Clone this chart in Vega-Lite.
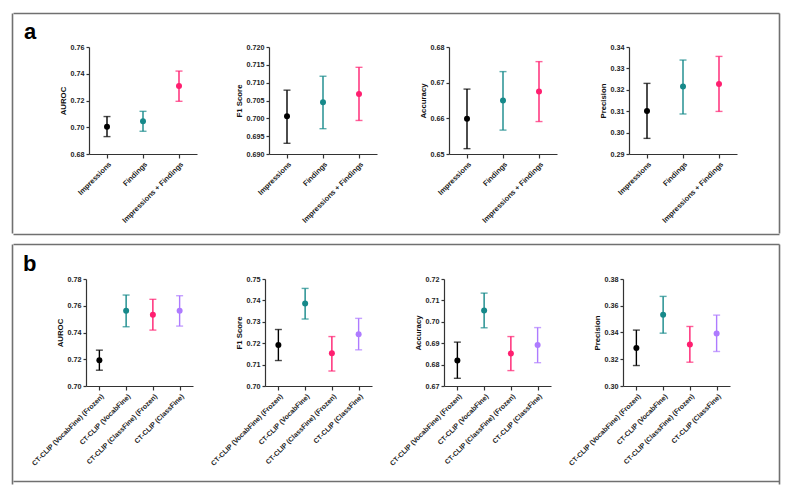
{
"$schema": "https://vega.github.io/schema/vega-lite/v6.json",
"padding": {"left": 12, "top": 13, "right": 12, "bottom": 13},
"background": "white",
"datasets": {
"a": [
{"metric":"AUROC","model":"Impressions","mean":0.7004,"lo":0.693,"hi":0.708},
{"metric":"AUROC","model":"Findings","mean":0.7044,"lo":0.697,"hi":0.7119},
{"metric":"AUROC","model":"Impressions + Findings","mean":0.7308,"lo":0.7194,"hi":0.742},
{"metric":"F1","model":"Impressions","mean":0.7006,"lo":0.693,"hi":0.7079},
{"metric":"F1","model":"Findings","mean":0.7045,"lo":0.6971,"hi":0.7118},
{"metric":"F1","model":"Impressions + Findings","mean":0.7068,"lo":0.6994,"hi":0.7143},
{"metric":"Accuracy","model":"Impressions","mean":0.6599,"lo":0.6515,"hi":0.6682},
{"metric":"Accuracy","model":"Findings","mean":0.665,"lo":0.6567,"hi":0.6731},
{"metric":"Accuracy","model":"Impressions + Findings","mean":0.6675,"lo":0.6591,"hi":0.6759},
{"metric":"Precision","model":"Impressions","mean":0.3101,"lo":0.2973,"hi":0.323},
{"metric":"Precision","model":"Findings","mean":0.3215,"lo":0.3087,"hi":0.3339},
{"metric":"Precision","model":"Impressions + Findings","mean":0.3227,"lo":0.3099,"hi":0.3356}
],
"b": [
{"metric":"AUROC","model":"CT-CLIP (VocabFine) (Frozen)","mean":0.7193,"lo":0.7118,"hi":0.7268},
{"metric":"AUROC","model":"CT-CLIP (VocabFine)","mean":0.7563,"lo":0.7443,"hi":0.768},
{"metric":"AUROC","model":"CT-CLIP (ClassFine) (Frozen)","mean":0.7533,"lo":0.7418,"hi":0.7648},
{"metric":"AUROC","model":"CT-CLIP (ClassFine)","mean":0.7563,"lo":0.7448,"hi":0.7675},
{"metric":"F1","model":"CT-CLIP (VocabFine) (Frozen)","mean":0.7192,"lo":0.7119,"hi":0.7264},
{"metric":"F1","model":"CT-CLIP (VocabFine)","mean":0.7386,"lo":0.7313,"hi":0.7456},
{"metric":"F1","model":"CT-CLIP (ClassFine) (Frozen)","mean":0.7153,"lo":0.707,"hi":0.7231},
{"metric":"F1","model":"CT-CLIP (ClassFine)","mean":0.7242,"lo":0.7169,"hi":0.7316},
{"metric":"Accuracy","model":"CT-CLIP (VocabFine) (Frozen)","mean":0.6819,"lo":0.6736,"hi":0.6905},
{"metric":"Accuracy","model":"CT-CLIP (VocabFine)","mean":0.7053,"lo":0.6972,"hi":0.7134},
{"metric":"Accuracy","model":"CT-CLIP (ClassFine) (Frozen)","mean":0.6852,"lo":0.6772,"hi":0.6931},
{"metric":"Accuracy","model":"CT-CLIP (ClassFine)","mean":0.6892,"lo":0.6809,"hi":0.6973},
{"metric":"Precision","model":"CT-CLIP (VocabFine) (Frozen)","mean":0.3285,"lo":0.3153,"hi":0.3418},
{"metric":"Precision","model":"CT-CLIP (VocabFine)","mean":0.3533,"lo":0.3395,"hi":0.367},
{"metric":"Precision","model":"CT-CLIP (ClassFine) (Frozen)","mean":0.331,"lo":0.3178,"hi":0.3445},
{"metric":"Precision","model":"CT-CLIP (ClassFine)","mean":0.3393,"lo":0.3258,"hi":0.353}
]
},
"vconcat": [
{"spacing": 0, "hconcat": [
{"width": 1, "height": 220, "data": {"values": [{}]}, "mark": {"type": "rule", "opacity": 0}, "encoding": {"y": {"datum": 0, "type": "quantitative", "axis": {"orient": "left", "ticks": false, "labels": false, "title": null, "domainColor": "#707070", "domainWidth": 1.6}}}},
{"spacing": 0, "vconcat": [
{"width": 766, "height": 28, "data": {"values": [{}]}, "mark": {"type": "rule", "opacity": 0}, "encoding": {"x": {"datum": 0, "type": "quantitative", "axis": {"orient": "top", "ticks": false, "labels": false, "title": null, "domainColor": "#707070", "domainWidth": 1.6}}},
 "title": {"text": "a", "anchor": "start", "frame": "group", "fontSize": 22, "fontWeight": "bold", "font": "Liberation Sans", "offset": -48, "dx": 11, "baseline": "alphabetic", "color": "#000000"}},
{"spacing": 72, "bounds": "flush", "hconcat": [
{"width": 4, "height": 107, "data": {"values": [{}]}, "mark": {"type": "rect", "opacity": 0}, "encoding": {}},
{"width":108,"height":107,"data":{"name":"a"},"transform":[{"filter":{"field":"metric","equal":"AUROC"}}],
"encoding":{"x":{"field":"model","type":"nominal","sort":["Impressions","Findings","Impressions + Findings"],"scale":{"type":"point","padding":0.5},"axis":{"title":null,"labelAngle":-45,"labelFontSize":7.4,"labelOverlap":false}},
"color":{"field":"model","type":"nominal","legend":null,"scale":{"domain":["Impressions","Findings","Impressions + Findings","CT-CLIP (VocabFine) (Frozen)","CT-CLIP (VocabFine)","CT-CLIP (ClassFine) (Frozen)","CT-CLIP (ClassFine)"],"range":["#000000","#16898a","#ff1f70","#000000","#16898a","#ff1f70","#ae7bff"]}}},
"layer":[
{"mark":{"type":"rule","strokeWidth":1.4},"encoding":{"y":{"field":"lo","type":"quantitative","title":"AUROC","scale":{"domain":[0.68,0.76],"nice":false,"zero":false},"axis":{"values":[0.68,0.70,0.72,0.74,0.76],"format":".2f","labelOverlap":false}},"y2":{"field":"hi"}}},
{"mark":{"type":"tick","size":7,"thickness":1.4},"encoding":{"y":{"field":"lo","type":"quantitative","title":"AUROC","axis":{"values":[0.68,0.70,0.72,0.74,0.76],"format":".2f","labelOverlap":false}}}},
{"mark":{"type":"tick","size":7,"thickness":1.4},"encoding":{"y":{"field":"hi","type":"quantitative","title":"AUROC","axis":{"values":[0.68,0.70,0.72,0.74,0.76],"format":".2f","labelOverlap":false}}}},
{"mark":{"type":"circle","size":36,"opacity":1},"encoding":{"y":{"field":"mean","type":"quantitative","title":"AUROC","axis":{"values":[0.68,0.70,0.72,0.74,0.76],"format":".2f","labelOverlap":false}}}}
]},
{"width":108,"height":107,"data":{"name":"a"},"transform":[{"filter":{"field":"metric","equal":"F1"}}],
"encoding":{"x":{"field":"model","type":"nominal","sort":["Impressions","Findings","Impressions + Findings"],"scale":{"type":"point","padding":0.5},"axis":{"title":null,"labelAngle":-45,"labelFontSize":7.4,"labelOverlap":false}},
"color":{"field":"model","type":"nominal","legend":null,"scale":{"domain":["Impressions","Findings","Impressions + Findings","CT-CLIP (VocabFine) (Frozen)","CT-CLIP (VocabFine)","CT-CLIP (ClassFine) (Frozen)","CT-CLIP (ClassFine)"],"range":["#000000","#16898a","#ff1f70","#000000","#16898a","#ff1f70","#ae7bff"]}}},
"layer":[
{"mark":{"type":"rule","strokeWidth":1.4},"encoding":{"y":{"field":"lo","type":"quantitative","title":"F1 Score","scale":{"domain":[0.69,0.72],"nice":false,"zero":false},"axis":{"values":[0.69,0.695,0.70,0.705,0.71,0.715,0.72],"format":".3f","labelOverlap":false}},"y2":{"field":"hi"}}},
{"mark":{"type":"tick","size":7,"thickness":1.4},"encoding":{"y":{"field":"lo","type":"quantitative","title":"F1 Score","axis":{"values":[0.69,0.695,0.70,0.705,0.71,0.715,0.72],"format":".3f","labelOverlap":false}}}},
{"mark":{"type":"tick","size":7,"thickness":1.4},"encoding":{"y":{"field":"hi","type":"quantitative","title":"F1 Score","axis":{"values":[0.69,0.695,0.70,0.705,0.71,0.715,0.72],"format":".3f","labelOverlap":false}}}},
{"mark":{"type":"circle","size":36,"opacity":1},"encoding":{"y":{"field":"mean","type":"quantitative","title":"F1 Score","axis":{"values":[0.69,0.695,0.70,0.705,0.71,0.715,0.72],"format":".3f","labelOverlap":false}}}}
]},
{"width":108,"height":107,"data":{"name":"a"},"transform":[{"filter":{"field":"metric","equal":"Accuracy"}}],
"encoding":{"x":{"field":"model","type":"nominal","sort":["Impressions","Findings","Impressions + Findings"],"scale":{"type":"point","padding":0.5},"axis":{"title":null,"labelAngle":-45,"labelFontSize":7.4,"labelOverlap":false}},
"color":{"field":"model","type":"nominal","legend":null,"scale":{"domain":["Impressions","Findings","Impressions + Findings","CT-CLIP (VocabFine) (Frozen)","CT-CLIP (VocabFine)","CT-CLIP (ClassFine) (Frozen)","CT-CLIP (ClassFine)"],"range":["#000000","#16898a","#ff1f70","#000000","#16898a","#ff1f70","#ae7bff"]}}},
"layer":[
{"mark":{"type":"rule","strokeWidth":1.4},"encoding":{"y":{"field":"lo","type":"quantitative","title":"Accuracy","scale":{"domain":[0.65,0.68],"nice":false,"zero":false},"axis":{"values":[0.65,0.66,0.67,0.68],"format":".2f","labelOverlap":false}},"y2":{"field":"hi"}}},
{"mark":{"type":"tick","size":7,"thickness":1.4},"encoding":{"y":{"field":"lo","type":"quantitative","title":"Accuracy","axis":{"values":[0.65,0.66,0.67,0.68],"format":".2f","labelOverlap":false}}}},
{"mark":{"type":"tick","size":7,"thickness":1.4},"encoding":{"y":{"field":"hi","type":"quantitative","title":"Accuracy","axis":{"values":[0.65,0.66,0.67,0.68],"format":".2f","labelOverlap":false}}}},
{"mark":{"type":"circle","size":36,"opacity":1},"encoding":{"y":{"field":"mean","type":"quantitative","title":"Accuracy","axis":{"values":[0.65,0.66,0.67,0.68],"format":".2f","labelOverlap":false}}}}
]},
{"width":108,"height":107,"data":{"name":"a"},"transform":[{"filter":{"field":"metric","equal":"Precision"}}],
"encoding":{"x":{"field":"model","type":"nominal","sort":["Impressions","Findings","Impressions + Findings"],"scale":{"type":"point","padding":0.5},"axis":{"title":null,"labelAngle":-45,"labelFontSize":7.4,"labelOverlap":false}},
"color":{"field":"model","type":"nominal","legend":null,"scale":{"domain":["Impressions","Findings","Impressions + Findings","CT-CLIP (VocabFine) (Frozen)","CT-CLIP (VocabFine)","CT-CLIP (ClassFine) (Frozen)","CT-CLIP (ClassFine)"],"range":["#000000","#16898a","#ff1f70","#000000","#16898a","#ff1f70","#ae7bff"]}}},
"layer":[
{"mark":{"type":"rule","strokeWidth":1.4},"encoding":{"y":{"field":"lo","type":"quantitative","title":"Precision","scale":{"domain":[0.29,0.34],"nice":false,"zero":false},"axis":{"values":[0.29,0.30,0.31,0.32,0.33,0.34],"format":".2f","labelOverlap":false}},"y2":{"field":"hi"}}},
{"mark":{"type":"tick","size":7,"thickness":1.4},"encoding":{"y":{"field":"lo","type":"quantitative","title":"Precision","axis":{"values":[0.29,0.30,0.31,0.32,0.33,0.34],"format":".2f","labelOverlap":false}}}},
{"mark":{"type":"tick","size":7,"thickness":1.4},"encoding":{"y":{"field":"hi","type":"quantitative","title":"Precision","axis":{"values":[0.29,0.30,0.31,0.32,0.33,0.34],"format":".2f","labelOverlap":false}}}},
{"mark":{"type":"circle","size":36,"opacity":1},"encoding":{"y":{"field":"mean","type":"quantitative","title":"Precision","axis":{"values":[0.29,0.30,0.31,0.32,0.33,0.34],"format":".2f","labelOverlap":false}}}}
]}
]},
{"width": 766, "height": 10, "data": {"values": [{}]}, "mark": {"type": "rule", "opacity": 0}, "encoding": {"x": {"datum": 0, "type": "quantitative", "axis": {"orient": "bottom", "ticks": false, "labels": false, "title": null, "domainColor": "#707070", "domainWidth": 1.6}}}}
]},
{"width": 1, "height": 220, "data": {"values": [{}]}, "mark": {"type": "rule", "opacity": 0}, "encoding": {"y": {"datum": 0, "type": "quantitative", "axis": {"orient": "left", "ticks": false, "labels": false, "title": null, "domainColor": "#707070", "domainWidth": 1.6}}}}
]},
{"spacing": 0, "hconcat": [
{"width": 1, "height": 240, "data": {"values": [{}]}, "mark": {"type": "rule", "opacity": 0}, "encoding": {"y": {"datum": 0, "type": "quantitative", "axis": {"orient": "left", "ticks": false, "labels": false, "title": null, "domainColor": "#707070", "domainWidth": 1.6}}}},
{"spacing": 0, "vconcat": [
{"width": 766, "height": 30, "data": {"values": [{}]}, "mark": {"type": "rule", "opacity": 0}, "encoding": {"x": {"datum": 0, "type": "quantitative", "axis": {"orient": "top", "ticks": false, "labels": false, "title": null, "domainColor": "#707070", "domainWidth": 1.6}}},
 "title": {"text": "b", "anchor": "start", "frame": "group", "fontSize": 22, "fontWeight": "bold", "font": "Liberation Sans", "offset": -49, "dx": 10, "baseline": "alphabetic", "color": "#000000"}},
{"spacing": 72, "bounds": "flush", "hconcat": [
{"width": 1, "height": 107, "data": {"values": [{}]}, "mark": {"type": "rect", "opacity": 0}, "encoding": {}},
{"width":107,"height":107,"data":{"name":"b"},"transform":[{"filter":{"field":"metric","equal":"AUROC"}}],
"encoding":{"x":{"field":"model","type":"nominal","sort":["CT-CLIP (VocabFine) (Frozen)","CT-CLIP (VocabFine)","CT-CLIP (ClassFine) (Frozen)","CT-CLIP (ClassFine)"],"scale":{"type":"point","padding":0.5},"axis":{"title":null,"labelAngle":-45,"labelFontSize":7,"labelOverlap":false}},
"color":{"field":"model","type":"nominal","legend":null,"scale":{"domain":["Impressions","Findings","Impressions + Findings","CT-CLIP (VocabFine) (Frozen)","CT-CLIP (VocabFine)","CT-CLIP (ClassFine) (Frozen)","CT-CLIP (ClassFine)"],"range":["#000000","#16898a","#ff1f70","#000000","#16898a","#ff1f70","#ae7bff"]}}},
"layer":[
{"mark":{"type":"rule","strokeWidth":1.4},"encoding":{"y":{"field":"lo","type":"quantitative","title":"AUROC","scale":{"domain":[0.70,0.78],"nice":false,"zero":false},"axis":{"values":[0.70,0.72,0.74,0.76,0.78],"format":".2f","labelOverlap":false}},"y2":{"field":"hi"}}},
{"mark":{"type":"tick","size":7,"thickness":1.4},"encoding":{"y":{"field":"lo","type":"quantitative","title":"AUROC","axis":{"values":[0.70,0.72,0.74,0.76,0.78],"format":".2f","labelOverlap":false}}}},
{"mark":{"type":"tick","size":7,"thickness":1.4},"encoding":{"y":{"field":"hi","type":"quantitative","title":"AUROC","axis":{"values":[0.70,0.72,0.74,0.76,0.78],"format":".2f","labelOverlap":false}}}},
{"mark":{"type":"circle","size":36,"opacity":1},"encoding":{"y":{"field":"mean","type":"quantitative","title":"AUROC","axis":{"values":[0.70,0.72,0.74,0.76,0.78],"format":".2f","labelOverlap":false}}}}
]},
{"width":107,"height":107,"data":{"name":"b"},"transform":[{"filter":{"field":"metric","equal":"F1"}}],
"encoding":{"x":{"field":"model","type":"nominal","sort":["CT-CLIP (VocabFine) (Frozen)","CT-CLIP (VocabFine)","CT-CLIP (ClassFine) (Frozen)","CT-CLIP (ClassFine)"],"scale":{"type":"point","padding":0.5},"axis":{"title":null,"labelAngle":-45,"labelFontSize":7,"labelOverlap":false}},
"color":{"field":"model","type":"nominal","legend":null,"scale":{"domain":["Impressions","Findings","Impressions + Findings","CT-CLIP (VocabFine) (Frozen)","CT-CLIP (VocabFine)","CT-CLIP (ClassFine) (Frozen)","CT-CLIP (ClassFine)"],"range":["#000000","#16898a","#ff1f70","#000000","#16898a","#ff1f70","#ae7bff"]}}},
"layer":[
{"mark":{"type":"rule","strokeWidth":1.4},"encoding":{"y":{"field":"lo","type":"quantitative","title":"F1 Score","scale":{"domain":[0.70,0.75],"nice":false,"zero":false},"axis":{"values":[0.70,0.71,0.72,0.73,0.74,0.75],"format":".2f","labelOverlap":false}},"y2":{"field":"hi"}}},
{"mark":{"type":"tick","size":7,"thickness":1.4},"encoding":{"y":{"field":"lo","type":"quantitative","title":"F1 Score","axis":{"values":[0.70,0.71,0.72,0.73,0.74,0.75],"format":".2f","labelOverlap":false}}}},
{"mark":{"type":"tick","size":7,"thickness":1.4},"encoding":{"y":{"field":"hi","type":"quantitative","title":"F1 Score","axis":{"values":[0.70,0.71,0.72,0.73,0.74,0.75],"format":".2f","labelOverlap":false}}}},
{"mark":{"type":"circle","size":36,"opacity":1},"encoding":{"y":{"field":"mean","type":"quantitative","title":"F1 Score","axis":{"values":[0.70,0.71,0.72,0.73,0.74,0.75],"format":".2f","labelOverlap":false}}}}
]},
{"width":107,"height":107,"data":{"name":"b"},"transform":[{"filter":{"field":"metric","equal":"Accuracy"}}],
"encoding":{"x":{"field":"model","type":"nominal","sort":["CT-CLIP (VocabFine) (Frozen)","CT-CLIP (VocabFine)","CT-CLIP (ClassFine) (Frozen)","CT-CLIP (ClassFine)"],"scale":{"type":"point","padding":0.5},"axis":{"title":null,"labelAngle":-45,"labelFontSize":7,"labelOverlap":false}},
"color":{"field":"model","type":"nominal","legend":null,"scale":{"domain":["Impressions","Findings","Impressions + Findings","CT-CLIP (VocabFine) (Frozen)","CT-CLIP (VocabFine)","CT-CLIP (ClassFine) (Frozen)","CT-CLIP (ClassFine)"],"range":["#000000","#16898a","#ff1f70","#000000","#16898a","#ff1f70","#ae7bff"]}}},
"layer":[
{"mark":{"type":"rule","strokeWidth":1.4},"encoding":{"y":{"field":"lo","type":"quantitative","title":"Accuracy","scale":{"domain":[0.67,0.72],"nice":false,"zero":false},"axis":{"values":[0.67,0.68,0.69,0.70,0.71,0.72],"format":".2f","labelOverlap":false}},"y2":{"field":"hi"}}},
{"mark":{"type":"tick","size":7,"thickness":1.4},"encoding":{"y":{"field":"lo","type":"quantitative","title":"Accuracy","axis":{"values":[0.67,0.68,0.69,0.70,0.71,0.72],"format":".2f","labelOverlap":false}}}},
{"mark":{"type":"tick","size":7,"thickness":1.4},"encoding":{"y":{"field":"hi","type":"quantitative","title":"Accuracy","axis":{"values":[0.67,0.68,0.69,0.70,0.71,0.72],"format":".2f","labelOverlap":false}}}},
{"mark":{"type":"circle","size":36,"opacity":1},"encoding":{"y":{"field":"mean","type":"quantitative","title":"Accuracy","axis":{"values":[0.67,0.68,0.69,0.70,0.71,0.72],"format":".2f","labelOverlap":false}}}}
]},
{"width":107,"height":107,"data":{"name":"b"},"transform":[{"filter":{"field":"metric","equal":"Precision"}}],
"encoding":{"x":{"field":"model","type":"nominal","sort":["CT-CLIP (VocabFine) (Frozen)","CT-CLIP (VocabFine)","CT-CLIP (ClassFine) (Frozen)","CT-CLIP (ClassFine)"],"scale":{"type":"point","padding":0.5},"axis":{"title":null,"labelAngle":-45,"labelFontSize":7,"labelOverlap":false}},
"color":{"field":"model","type":"nominal","legend":null,"scale":{"domain":["Impressions","Findings","Impressions + Findings","CT-CLIP (VocabFine) (Frozen)","CT-CLIP (VocabFine)","CT-CLIP (ClassFine) (Frozen)","CT-CLIP (ClassFine)"],"range":["#000000","#16898a","#ff1f70","#000000","#16898a","#ff1f70","#ae7bff"]}}},
"layer":[
{"mark":{"type":"rule","strokeWidth":1.4},"encoding":{"y":{"field":"lo","type":"quantitative","title":"Precision","scale":{"domain":[0.30,0.38],"nice":false,"zero":false},"axis":{"values":[0.30,0.32,0.34,0.36,0.38],"format":".2f","labelOverlap":false}},"y2":{"field":"hi"}}},
{"mark":{"type":"tick","size":7,"thickness":1.4},"encoding":{"y":{"field":"lo","type":"quantitative","title":"Precision","axis":{"values":[0.30,0.32,0.34,0.36,0.38],"format":".2f","labelOverlap":false}}}},
{"mark":{"type":"tick","size":7,"thickness":1.4},"encoding":{"y":{"field":"hi","type":"quantitative","title":"Precision","axis":{"values":[0.30,0.32,0.34,0.36,0.38],"format":".2f","labelOverlap":false}}}},
{"mark":{"type":"circle","size":36,"opacity":1},"encoding":{"y":{"field":"mean","type":"quantitative","title":"Precision","axis":{"values":[0.30,0.32,0.34,0.36,0.38],"format":".2f","labelOverlap":false}}}}
]}
]},
{"width": 766, "height": 14, "data": {"values": [{}]}, "mark": {"type": "rule", "opacity": 0}, "encoding": {"x": {"datum": 0, "type": "quantitative", "axis": {"orient": "bottom", "ticks": false, "labels": false, "title": null, "domainColor": "#707070", "domainWidth": 1.6}}}}
]},
{"width": 1, "height": 240, "data": {"values": [{}]}, "mark": {"type": "rule", "opacity": 0}, "encoding": {"y": {"datum": 0, "type": "quantitative", "axis": {"orient": "left", "ticks": false, "labels": false, "title": null, "domainColor": "#707070", "domainWidth": 1.6}}}}
]}
],
"spacing": 10,
"resolve": {"scale": {"y": "independent", "x": "independent"}},
"config": {
"view": {"stroke": null},
"font": "Liberation Sans",
"axis": {"grid": false, "labelOverlap": false, "domainColor": "#333333", "domainWidth": 1.2, "tickColor": "#333333", "tickWidth": 1.2, "tickSize": 3, "labelFont": "Liberation Sans", "labelFontSize": 7.2, "labelFontWeight": "bold", "labelColor": "#222222", "titleFont": "Liberation Sans", "titleFontSize": 7.8, "titleFontWeight": "bold", "titleColor": "#111111", "labelPadding": 2, "titlePadding": 3},
"axisX": {"tickSize": 4}
}
}
